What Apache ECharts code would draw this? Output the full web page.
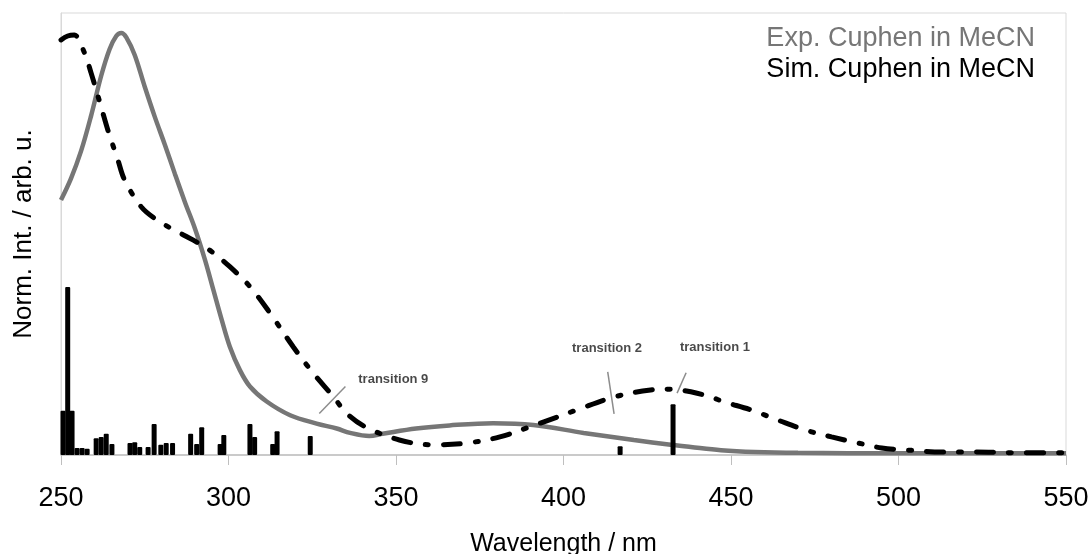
<!DOCTYPE html>
<html>
<head>
<meta charset="utf-8">
<script src="https://cdn.jsdelivr.net/npm/echarts@6/dist/echarts.min.js"></script>
<style>
html,body{margin:0;padding:0;background:#fff;}
#chart{width:1091px;height:554px;}
</style>
</head>
<body>
<div id="chart"></div>
<script>
// Experimental spectrum (wavelength nm, normalized intensity)
const expWavelength = [250,253,256,259,262,264.5,266.5,268,269.5,272,275,278,281,284,287,290,293,295.5,298,300.4,303.4,306.4,311.4,318.4,326.3,332.3,336.3,342,346,356,366,379,391,406,421,432,438,447,457,470,500,550];
const expIntensity = [0.577,0.626,0.688,0.768,0.858,0.918,0.948,0.955,0.945,0.905,0.833,0.765,0.702,0.636,0.572,0.512,0.441,0.373,0.305,0.245,0.192,0.155,0.121,0.090,0.071,0.060,0.050,0.043,0.048,0.060,0.067,0.072,0.068,0.050,0.034,0.023,0.018,0.011,0.007,0.005,0.004,0.004];

// Simulated spectrum
const simWavelength = [250,252,254,257,259,262,264,267,269,274,278.6,284,289.5,295,300.4,306.4,312.4,319.3,325.3,331.3,335.3,341,351,361,371,381,393,404,415,426,432,438,444,448,456,464,472,480,488,495,503,513,523,535,550];
const simIntensity = [0.939,0.948,0.950,0.910,0.864,0.787,0.735,0.667,0.622,0.561,0.532,0.508,0.486,0.460,0.426,0.381,0.321,0.245,0.185,0.132,0.094,0.063,0.034,0.023,0.027,0.041,0.072,0.102,0.131,0.147,0.149,0.143,0.131,0.120,0.102,0.079,0.057,0.041,0.027,0.016,0.011,0.007,0.007,0.005,0.005];

// Calculated transitions (sticks)
const stickWavelength = [250.6,252,253.3,254.8,256.3,257.8,260.5,262,263.5,265.2,270.6,272,273.5,276,277.8,279.8,281.4,283.3,288.7,290.5,292,297.5,298.6,306.4,307.8,313.2,314.5,324.4,416.9,432.7];
const stickIntensity = [0.100,0.380,0.100,0.016,0.016,0.014,0.038,0.041,0.048,0.025,0.027,0.029,0.018,0.018,0.070,0.023,0.027,0.027,0.048,0.025,0.063,0.025,0.045,0.070,0.041,0.025,0.054,0.043,0.020,0.115];

// Annotations
const annotationNames = ['transition 9','transition 2','transition 1'];
const annotationLabelX = [349.2, 413.0, 445.2];
const annotationLabelY = [0.172, 0.242, 0.244];
const annotationTickX0 = [327.1, 413.2, 436.6];
const annotationTickY0 = [0.094, 0.188, 0.186];
const annotationTickX1 = [334.9, 415.1, 433.9];
const annotationTickY1 = [0.155, 0.093, 0.140];

const xTicks = [250,300,350,400,450,500,550];
const seriesNames = ['Exp. Cuphen in MeCN','Sim. Cuphen in MeCN'];

const chart = echarts.init(document.getElementById('chart'));
const font = 'Liberation Sans, Arial, sans-serif';

const series = [
  {
    name: seriesNames[0], type: 'line', smooth: 0.35, symbol: 'none', z: 3,
    data: expWavelength.map((w,i)=>[w, expIntensity[i]]),
    lineStyle: {color:'#767676', width:4.5}
  },
  {
    name: seriesNames[1], type: 'line', smooth: 0.35, symbol: 'none', z: 4,
    data: simWavelength.map((w,i)=>[w, simIntensity[i]]),
    lineStyle: {color:'#000', width:5, type:[17,15,3,15], cap:'round'}
  },
  {
    name: 'sticks', type: 'custom', z: 5,
    data: stickWavelength.map((w,i)=>[w, stickIntensity[i]]),
    renderItem: function(params, api){
      const p0 = api.coord([api.value(0), 0]);
      const p1 = api.coord([api.value(0), api.value(1)]);
      return {type:'rect', shape:{x:p0[0]-2.5, y:p1[1], width:5, height:p0[1]-p1[1], r:1}, style:{fill:'#000'}};
    }
  },
  {
    name: 'annotations', type: 'scatter', symbolSize: 0, z: 6,
    data: annotationNames.map((n,i)=>({value:[annotationLabelX[i], annotationLabelY[i]], name:n})),
    label: {show:true, position:'inside', formatter: p=>p.name, color:'#1a1a1a', fontFamily:font, fontWeight:'bold', fontSize:13}
  }
];
annotationNames.forEach((n,i)=>{
  series.push({
    name: 'tick '+n, type:'line', symbol:'none', z:6, silent:true,
    data: [[annotationTickX0[i], annotationTickY0[i]],[annotationTickX1[i], annotationTickY1[i]]],
    lineStyle:{color:'#8c8c8c', width:1.5}
  });
});

chart.setOption({
  animation: false,
  backgroundColor: '#fff',
  grid: {left:61, right:25, top:13, bottom:99, show:true, borderColor:'#d9d9d9', borderWidth:1, containLabel:false, outerBoundsMode:'none'},
  legend: {
    right: 51, top: 20, orient:'vertical', itemWidth:0, itemHeight:0, itemGap:4,
    data: [
      {name: seriesNames[0], icon:'none', textStyle:{color:'#767676'}},
      {name: seriesNames[1], icon:'none', textStyle:{color:'#000'}}
    ],
    textStyle: {fontFamily:font, fontSize:27, padding:[0,0,0,0]},
    selectedMode: false
  },
  xAxis: {
    type:'value', min:250, max:550, interval:50,
    name:'Wavelength / nm', nameLocation:'middle', nameGap:77,
    nameTextStyle:{fontFamily:font, fontSize:25, color:'#000'},
    axisLine:{show:true, lineStyle:{color:'#bfbfbf', width:1.5}},
    axisTick:{show:true, length:10, lineStyle:{color:'#bfbfbf'}},
    axisLabel:{fontFamily:font, fontSize:27, color:'#000', margin:30, formatter: v=> xTicks.includes(v)? String(v):''},
    splitLine:{show:false}
  },
  yAxis: {
    type:'value', min:0, max:1,
    name:'Norm. Int. / arb. u.', nameLocation:'middle', nameGap:24,
    nameTextStyle:{fontFamily:font, fontSize:26, color:'#000'},
    axisLine:{show:true, lineStyle:{color:'#d9d9d9'}},
    axisTick:{show:false}, axisLabel:{show:false}, splitLine:{show:false}
  },
  series: series
});
</script>
</body>
</html>
